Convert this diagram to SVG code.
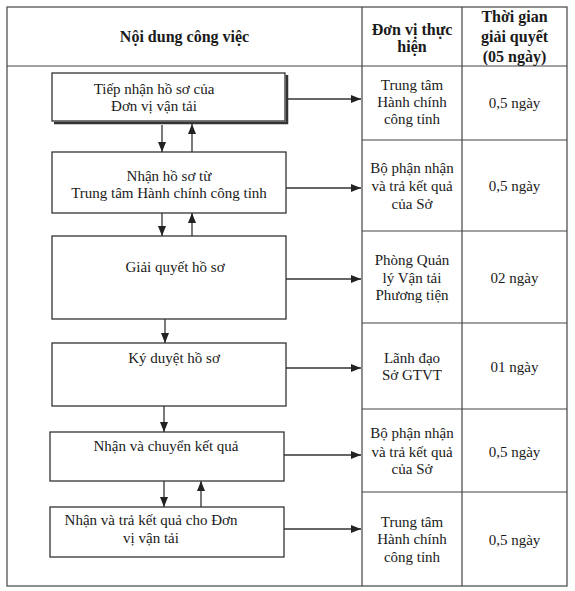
<svg xmlns="http://www.w3.org/2000/svg" width="575" height="591" viewBox="0 0 575 591">
<defs>
<style>
.t{font-family:"Liberation Serif","Times New Roman",serif;font-size:15px;fill:#1a1a1a;text-anchor:middle}
.b{font-weight:bold;font-size:16px}
.grid{stroke:#444;stroke-width:1.2;fill:none}
.box{stroke:#333;stroke-width:1.3;fill:#fff}
.c{stroke:#333;stroke-width:1.3;fill:none;marker-end:url(#ah)}
</style>
<marker id="ah" viewBox="0 0 10 8" refX="10" refY="4" markerWidth="10" markerHeight="8" markerUnits="userSpaceOnUse" orient="auto">
<path d="M0,0 L10,4 L0,8 Z" fill="#222"/>
</marker>
</defs>
<rect width="575" height="591" fill="#fff"/>
<g id="table">
<rect class="grid" x="7" y="7" width="560" height="579"/>
<line class="grid" x1="7" y1="66" x2="567" y2="66"/>
<line class="grid" x1="362" y1="7" x2="362" y2="586"/>
<line class="grid" x1="462" y1="7" x2="462" y2="586"/>
<line class="grid" x1="362" y1="140" x2="567" y2="140"/>
<line class="grid" x1="362" y1="231" x2="567" y2="231"/>
<line class="grid" x1="362" y1="323" x2="567" y2="323"/>
<line class="grid" x1="362" y1="409" x2="567" y2="409"/>
<line class="grid" x1="362" y1="492" x2="567" y2="492"/>
<text class="t b" x="184.5" y="42">Nội dung công việc</text>
<text class="t b" x="412" y="35">Đơn vị thực</text>
<text class="t b" x="412" y="52">hiện</text>
<text class="t b" x="514.5" y="22">Thời gian</text>
<text class="t b" x="514.5" y="42">giải quyết</text>
<text class="t b" x="514.5" y="62">(05 ngày)</text>
</g>
<g id="r1"><text class="t" x="412" y="90">Trung tâm</text><text class="t" x="412" y="107">Hành chính</text><text class="t" x="412" y="124">công tỉnh</text><text class="t" x="514.5" y="108">0,5 ngày</text></g>
<g id="r2"><text class="t" x="412" y="173">Bộ phận nhận</text><text class="t" x="412" y="191">và trả kết quả</text><text class="t" x="412" y="209">của Sở</text><text class="t" x="514.5" y="191">0,5 ngày</text></g>
<g id="r3"><text class="t" x="412" y="265">Phòng Quản</text><text class="t" x="412" y="283">lý Vận tải</text><text class="t" x="412" y="300">Phương tiện</text><text class="t" x="514.5" y="283">02 ngày</text></g>
<g id="r4"><text class="t" x="412" y="363">Lãnh đạo</text><text class="t" x="412" y="380">Sở GTVT</text><text class="t" x="514.5" y="372">01 ngày</text></g>
<g id="r5"><text class="t" x="412" y="438">Bộ phận nhận</text><text class="t" x="412" y="457">và trả kết quả</text><text class="t" x="412" y="474">của Sở</text><text class="t" x="514.5" y="457">0,5 ngày</text></g>
<g id="r6"><text class="t" x="412" y="527">Trung tâm</text><text class="t" x="412" y="544">Hành chính</text><text class="t" x="412" y="562">công tỉnh</text><text class="t" x="514.5" y="545">0,5 ngày</text></g>
<g id="n1">
<polyline points="54,123 287,123 287,75" fill="none" stroke="#333" stroke-width="2.5"/>
<rect class="box" x="52" y="73" width="233" height="48"/>
<text class="t" x="154" y="94">Tiếp nhận hồ sơ của</text>
<text class="t" x="154" y="111">Đơn vị vận tải</text>
</g>
<g id="n2">
<rect class="box" x="52" y="152" width="234" height="61"/>
<text class="t" x="169" y="181">Nhận hồ sơ từ</text>
<text class="t" x="169" y="198">Trung tâm Hành chính công tỉnh</text>
</g>
<g id="n3">
<rect class="box" x="52" y="236" width="234" height="83"/>
<text class="t" x="175" y="272">Giải quyết hồ sơ</text>
</g>
<g id="n4">
<rect class="box" x="52" y="343" width="234" height="63"/>
<text class="t" x="174" y="363">Ký duyệt hồ sơ</text>
</g>
<g id="n5">
<rect class="box" x="50" y="432" width="234" height="49"/>
<text class="t" x="166" y="451">Nhận và chuyển kết quả</text>
</g>
<g id="n6">
<rect class="box" x="50" y="507" width="234" height="50"/>
<text class="t" x="151" y="525">Nhận và trả kết quả cho Đơn</text>
<text class="t" x="151" y="543">vị vận tải</text>
</g>
<g id="connectors">
<line class="c" x1="162" y1="125" x2="162" y2="152"/>
<line class="c" x1="192" y1="152" x2="192" y2="124"/>
<line class="c" x1="162" y1="213" x2="162" y2="236"/>
<line class="c" x1="192" y1="236" x2="192" y2="213"/>
<line class="c" x1="165" y1="319" x2="165" y2="343"/>
<line class="c" x1="164" y1="406" x2="164" y2="432"/>
<line class="c" x1="164" y1="481" x2="164" y2="507"/>
<line class="c" x1="201" y1="507" x2="201" y2="481"/>
<line class="c" x1="288" y1="99" x2="361" y2="99"/>
<line class="c" x1="286" y1="188" x2="361" y2="188"/>
<line class="c" x1="286" y1="279" x2="361" y2="279"/>
<line class="c" x1="286" y1="368" x2="361" y2="368"/>
<line class="c" x1="284" y1="455" x2="361" y2="455"/>
<line class="c" x1="284" y1="529" x2="361" y2="529"/>
</g>
</svg>
